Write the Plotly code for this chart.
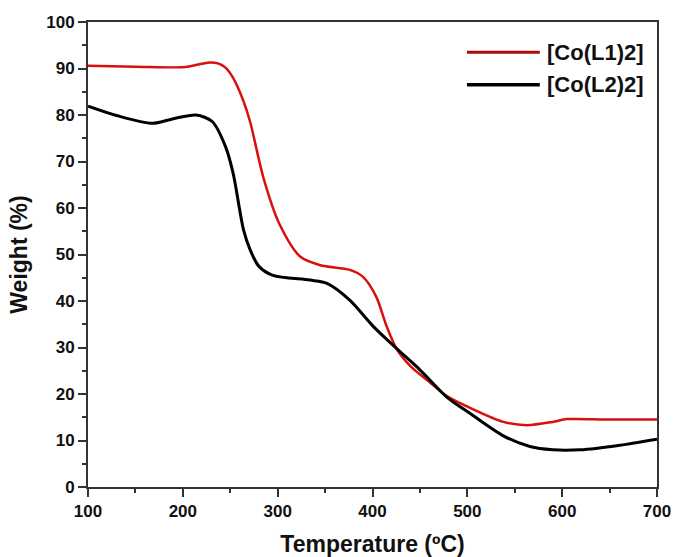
import plotly.graph_objects as go

temp_L1 = [100, 150, 203, 215, 228, 237, 245, 253, 263, 271, 285, 302, 324, 345, 376, 390, 404, 415, 426, 440, 461, 478, 503, 538, 563, 590, 605, 650, 700]
wt_L1 = [90.6, 90.4, 90.3, 90.8, 91.3, 91.1, 90.2, 88.0, 83.5, 78.5, 66.5, 56.5, 49.5, 47.7, 46.7, 45.2, 40.9, 34.5, 29.5, 26.0, 22.4, 19.6, 17.0, 14.0, 13.3, 14.0, 14.6, 14.5, 14.5]

temp_L2 = [100, 130, 168, 190, 214, 231, 245, 253, 264, 271, 280, 295, 334, 352, 376, 401, 427, 450, 478, 503, 538, 566, 590, 619, 661, 700]
wt_L2 = [81.9, 79.9, 78.2, 79.2, 80.0, 78.6, 73.2, 67.5, 55.3, 51.0, 47.5, 45.5, 44.5, 43.8, 40.2, 34.5, 29.5, 25.2, 19.4, 15.8, 11.0, 8.7, 8.0, 8.0, 9.0, 10.3]

series_names = ["[Co(L1)2]", "[Co(L2)2]"]
series_colors = ["#d81010", "#000000"]
x_ticks = [100, 200, 300, 400, 500, 600, 700]
y_ticks = [0, 10, 20, 30, 40, 50, 60, 70, 80, 90, 100]

fig = go.Figure()
fig.add_trace(go.Scatter(x=temp_L1, y=wt_L1, mode="lines", name=series_names[0], showlegend=False,
                         line=dict(color=series_colors[0], width=2.5, shape="spline", smoothing=0.8)))
fig.add_trace(go.Scatter(x=temp_L2, y=wt_L2, mode="lines", name=series_names[1], showlegend=False,
                         line=dict(color=series_colors[1], width=3, shape="spline", smoothing=0.8)))

font_b = dict(family="Liberation Sans, Arial, sans-serif", color="#111111")
axis_common = dict(showline=True, linecolor="#333333", linewidth=2, mirror=True,
                   ticks="outside", ticklen=8, tickwidth=2, tickcolor="#333333",
                   showgrid=False, zeroline=False, automargin=False,
                   tickfont=dict(size=17, **font_b))

fig.update_xaxes(range=[100, 700], tickvals=x_ticks,
                 ticktext=["<b>%d</b>" % v for v in x_ticks],
                 minor=dict(ticks="outside", ticklen=4, tickwidth=2, dtick=50, tick0=100, tickcolor="#333333"),
                 title=dict(text="<b>Temperature (ºC)</b>", font=dict(size=23, **font_b), standoff=25),
                 **axis_common)
fig.update_yaxes(range=[0, 100], tickvals=y_ticks,
                 ticktext=["<b>%d</b>" % v for v in y_ticks],
                 minor=dict(ticks="outside", ticklen=4, tickwidth=2, dtick=5, tick0=0, tickcolor="#333333"),
                 title=dict(text="<b>Weight (%)</b>", font=dict(size=23, **font_b), standoff=12),
                 **axis_common)

# legend drawn in paper coordinates
legend_y = [0.935, 0.865]
for name, col, ly, w in zip(series_names, series_colors, legend_y, [3, 3.5]):
    fig.add_shape(type="line", xref="paper", yref="paper", x0=0.666, x1=0.794, y0=ly, y1=ly,
                  line=dict(color=col if col != "#d81010" else "#b00a0a", width=w))
    fig.add_annotation(xref="paper", yref="paper", x=0.803, y=ly, xanchor="left", yanchor="middle",
                       text="<b>" + name + "</b>", showarrow=False, font=dict(size=22, **font_b))

fig.update_layout(width=673, height=557,
                  margin=dict(l=88, r=16, t=22, b=70),
                  paper_bgcolor="white", plot_bgcolor="white",
                  showlegend=False)

fig.write_html("out.html", config={"displayModeBar": False},
               post_script="document.body.style.margin='0';document.body.style.overflow='hidden';")
